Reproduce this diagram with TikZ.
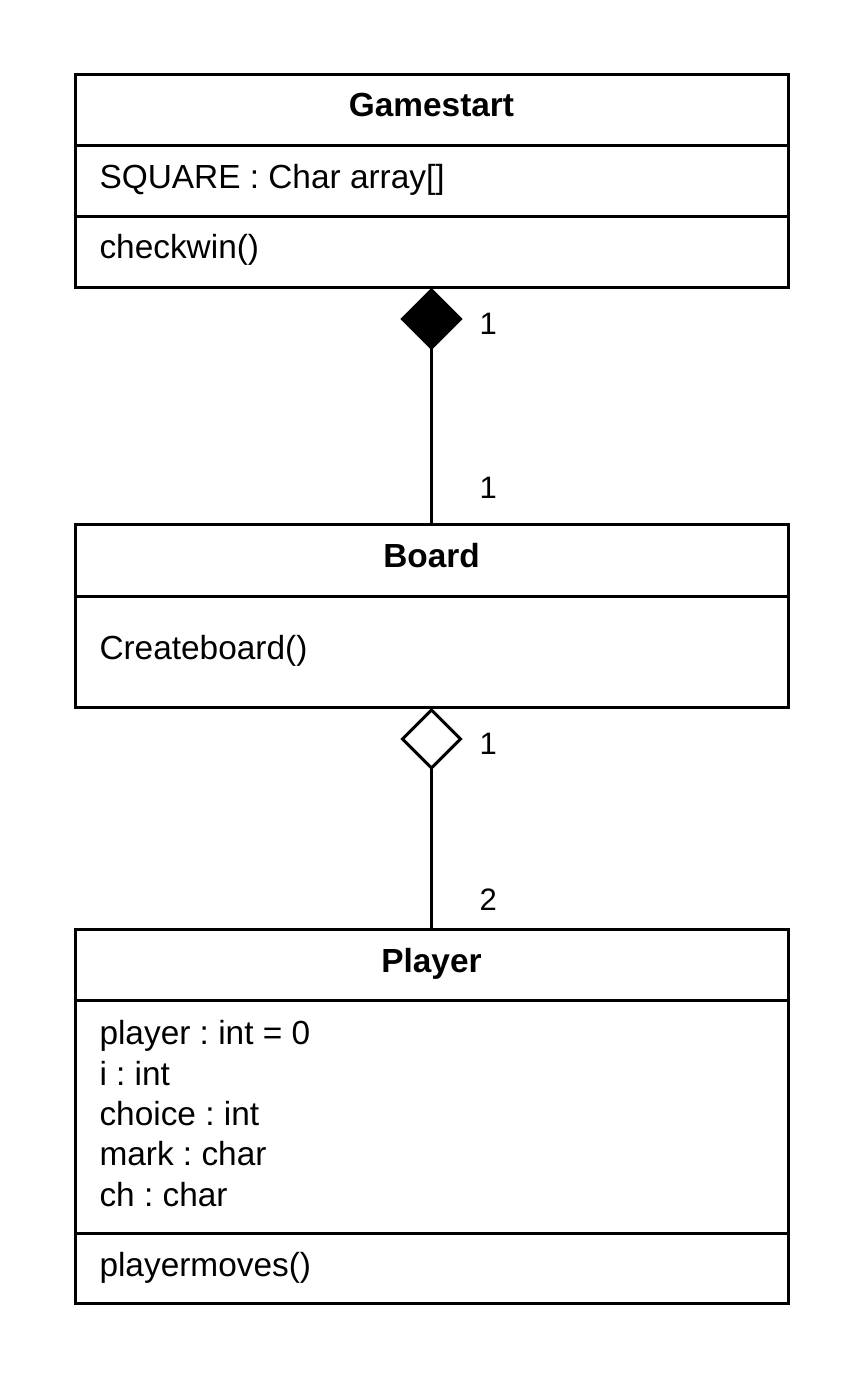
\documentclass[tikz,border=0pt]{standalone}
\usepackage{fontspec}
\setmainfont{Liberation Sans}
\usetikzlibrary{shapes.geometric}
\frenchspacing
\begin{document}
\begin{tikzpicture}[x=1pt,y=-1pt,line width=3pt,
  umlbox/.style={draw,rectangle,inner sep=0pt,outer sep=0pt,anchor=north west,minimum width=713pt},
  txt/.style={anchor=base west,inner sep=0pt,font=\fontsize{33.4}{40.5}\selectfont},
  ttl/.style={anchor=base,inner sep=0pt,font=\fontsize{33.4}{40.5}\selectfont\bfseries},
  mult/.style={anchor=base west,inner sep=0pt,font=\fontsize{31}{37}\selectfont},
  agg/.style={diamond,draw,inner sep=0pt,outer sep=0pt,minimum width=58pt,minimum height=58pt}]
\useasboundingbox (0,0) rectangle (863,1378);
% Gamestart
\node[umlbox,minimum height=212pt] (g) at (75,75) {};
\draw (g.west |- 0,145) -- (g.east |- 0,145);
\draw (g.west |- 0,216) -- (g.east |- 0,216);
\node[ttl] (gt) at (431.5,117) {Gamestart};
\node[txt] (ga) at (98,188) {SQUARE : Char array[]};
\node[txt] (gm) at (98,258) {checkwin()};
% Board
\node[umlbox,minimum height=183pt] (b) at (75,524) {};
\draw (b.west |- 0,596) -- (b.east |- 0,596);
\node[ttl] (bt) at (431.5,567) {Board};
\node[txt] (bm) at (98,659) {Createboard()};
% Player
\node[umlbox,minimum height=374pt] (p) at (75,929) {};
\draw (p.west |- 0,1000) -- (p.east |- 0,1000);
\node[ttl] (pt) at (431.5,972) {Player};
\node[txt] (pa1) at (98,1044) {player : int = 0};
\node[txt] (pa2) at (98,1085) {i : int};
\node[txt] (pa3) at (98,1125) {choice : int};
\node[txt] (pa4) at (98,1165) {mark : char};
\node[txt] (pa5) at (98,1206) {ch : char};
\draw (p.west |- 0,1233) -- (p.east |- 0,1233);
\node[txt] (pm) at (98,1276) {playermoves()};
% composition
\node[agg,fill=black] (d1) at (431.5,319) {};
\draw (d1.south) -- (b.north);
\node[mult] (m1) at (478,334) {1};
\node[mult] (m2) at (478,498) {1};
% aggregation
\node[agg,fill=white] (d2) at (431.5,739) {};
\draw (d2.south) -- (p.north);
\node[mult] (m3) at (478,754) {1};
\node[mult] (m4) at (478,910) {2};
\end{tikzpicture}
\end{document}
